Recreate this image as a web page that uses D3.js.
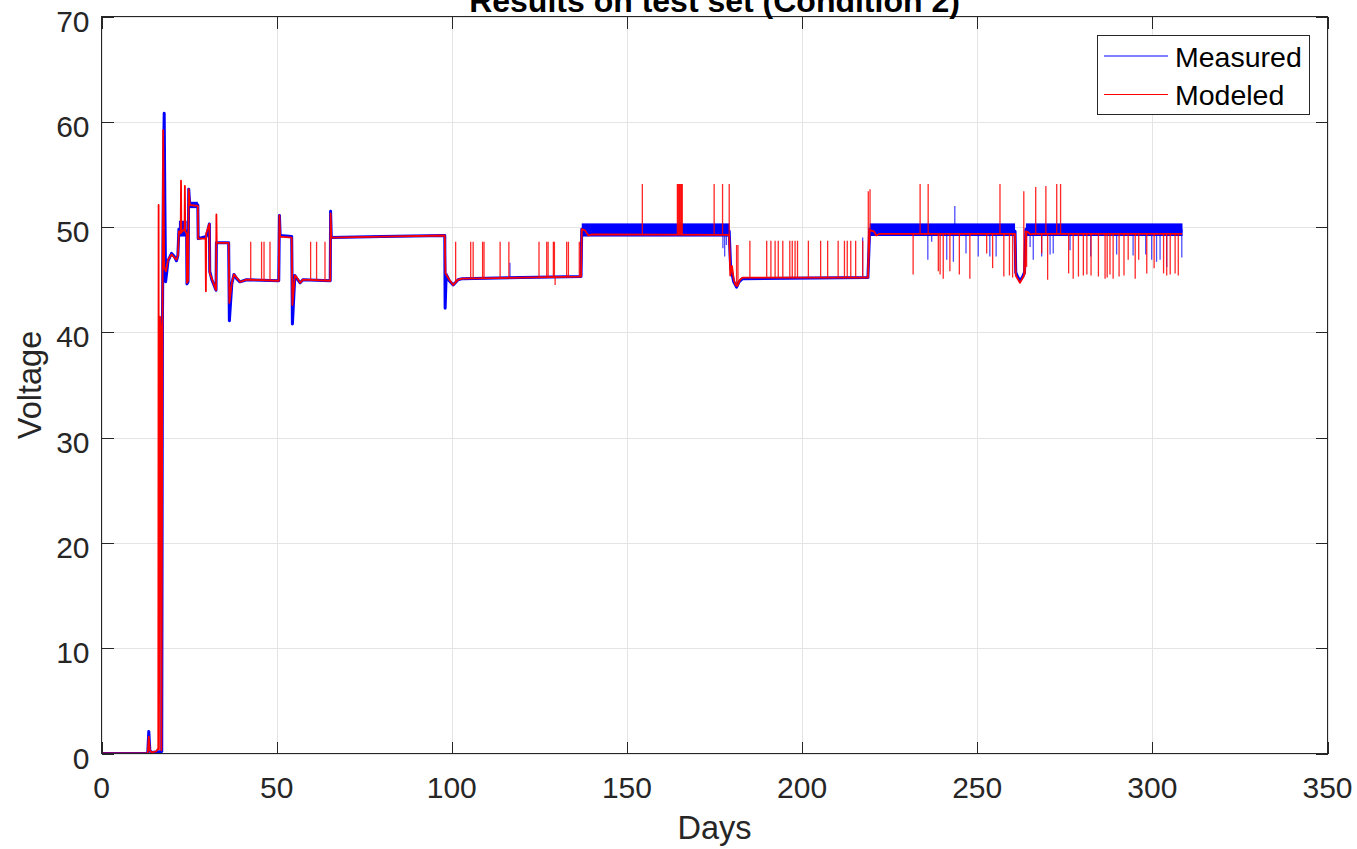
<!DOCTYPE html>
<html>
<head>
<meta charset="utf-8">
<script src="https://cdn.jsdelivr.net/npm/d3@7"></script>
<style>
  html, body { margin: 0; padding: 0; background: #fff; }
  svg { display: block; font-family: "Liberation Sans", Arial, Helvetica, sans-serif; }
</style>
</head>
<body>
<svg id="chart" width="1357" height="849"></svg>
<script>
// ---- Data -------------------------------------------------------------
const xTicks = [0, 50, 100, 150, 200, 250, 300, 350];
const yTicks = [0, 10, 20, 30, 40, 50, 60, 70];
const seriesNames = ["Measured", "Modeled"];

// Measured voltage trace: [day, volts]
const measured = [
  [0,0],[13.2,0],[13.5,2.1],[13.8,0.3],[14.3,0.1],[17.2,0.2],[17.4,41],[17.7,56],[17.9,60.8],
  [18.1,52],[18.3,44.8],[19,46.8],[20,47.5],[20.8,47.2],[21.4,46.8],[21.8,47.3],[22.1,49.8],
  [24.3,49.6],[24.4,44.6],[24.7,44.8],[24.9,53.6],[25.2,52.1],[27.5,52.1],[27.6,48.9],[29.9,49.1],
  [30.3,49.6],[30.8,50.3],[30.9,45.8],[31.5,45.0],[32.7,44.0],[32.8,48.5],[36.3,48.5],[36.5,41.1],
  [37.2,44.6],[37.8,45.5],[38.6,45.1],[39.5,44.8],[40.5,44.9],[41.4,45.0],[50.6,44.9],[50.8,51.1],
  [51.0,49.2],[54.3,49.1],[54.5,40.8],[55.2,45.4],[55.8,45.1],[56.7,44.7],[57.5,45.0],[65.3,44.9],
  [65.4,51.5],[65.6,49.0],[80,49.1],[98.0,49.2],[98.1,42.3],[98.4,45.5],[99.3,44.9],[100.4,44.5],
  [101.8,45.0],[103,45.1],[120,45.2],[136.9,45.3],[137.1,49.8],[179.2,49.6],[179.6,46.2],[180.5,44.8],
  [181.3,44.3],[182,44.8],[183,45.1],[218.8,45.2],[219.3,49.8],[260.8,49.6],[261,45.7],[261.5,45.3],
  [262.2,44.9],[263,45.3],[263.5,45.7],[263.9,49.8],[308.6,49.7]
];

// Noisy stretches of the measured signal: start day, end day, low and high volts
const bandStart = [22.1, 25.2, 137.1, 219.3, 263.9];
const bandEnd   = [24.3, 27.5, 179.3, 260.8, 308.6];
const bandLow   = [49.1, 51.8, 49.1, 49.15, 49.15];
const bandHigh  = [50.6, 52.4, 50.35, 50.35, 50.35];

// Isolated measured excursions: [day, extreme volts]
const measuredSpikes = [
  [116.6,46.6],[177.4,48.0],[177.9,47.2],[178.4,48.3],[217.3,49.0],[235.9,46.9],[237.0,48.6],
  [241.3,46.9],[243.2,46.7],[243.6,52.0],[246.8,47.5],[250.3,47.2],[253.6,47.2],[255.4,47.2],
  [265.1,48.1],[266.0,46.9],[268.4,47.2],[270.8,47.4],[271.7,47.5],[276.5,47.8],[282.4,47.2],
  [289.8,47.4],[294.5,47.3],[298.1,47.4],[299.8,46.9],[301.2,46.7],[302.2,46.9],[304.1,46.2],
  [308.4,47.1]
];

// Modeled voltage trace: [day, volts]
const modeled = [
  [0,0],[13.2,0],[13.5,1.6],[13.8,0.3],[14.3,0.1],[15.6,0.2],[16.2,0.5],[16.3,52.1],[16.4,0.4],
  [16.7,41.5],[16.9,40.5],[17.1,0.3],[17.4,40.8],[17.6,59.2],[17.9,46.2],[18.4,45.8],[19,46.9],
  [20,47.4],[20.8,47.1],[21.4,46.9],[21.8,47.3],[22.1,49.6],[22.6,49.4],[22.7,54.4],[22.8,49.5],
  [23.7,49.8],[23.8,53.9],[23.9,49.6],[24.3,49.4],[24.4,44.7],[24.7,44.9],[24.9,53.6],[25.2,52.1],
  [27.5,52.0],[27.6,48.9],[29.7,48.9],[29.8,43.9],[29.9,49.4],[30.8,50.3],[30.9,45.6],[31.5,45.1],
  [32.7,44.0],[32.8,51.2],[32.9,48.5],[36.3,48.5],[36.5,42.8],[37.2,44.7],[37.8,45.5],[38.6,45.2],
  [39.5,44.8],[40.5,44.9],[41.4,45.0],[50.6,44.9],[50.8,51.1],[51.0,49.1],[54.3,49.0],[54.5,42.6],
  [55.2,45.4],[55.8,45.2],[56.7,44.7],[57.5,45.0],[65.3,44.9],[65.4,51.3],[65.6,49.0],[80,49.1],
  [98.0,49.2],[98.2,45.6],[99.3,45.0],[100.4,44.5],[101.8,45.0],[103,45.1],[120,45.2],[136.9,45.3],
  [137.1,49.8],[138,49.7],[139,49.2],[140,49.3],[179.2,49.25],[179.5,45.4],[180,46.3],[180.5,45.0],
  [181,44.5],[181.5,44.4],[182.3,45.0],[183,45.2],[218.8,45.2],[219.3,49.7],[220.5,49.6],[221.2,49.2],
  [222,49.35],[260.8,49.35],[261,45.4],[262.2,44.7],[263.2,45.3],[263.6,45.6],[263.9,49.6],
  [264.6,49.5],[265.2,49.3],[266,49.35],[308.5,49.35]
];

// Isolated modeled excursions: [day, extreme volts]
const modeledSpikes = [
  [42.6,48.6],[45.7,48.6],[46.4,48.6],[48.1,48.6],[59.7,48.6],[61.4,48.6],[63.8,48.6],
  [101.1,48.6],[105.4,48.6],[106.1,48.6],[108.8,48.6],[109.2,48.6],[113.8,48.6],[116.3,48.6],
  [124.9,48.6],[127.1,48.6],[127.5,48.6],[129.0,48.6],[129.3,48.6],[129.5,44.5],[132.8,48.6],
  [133.3,48.6],[136.4,48.6],
  [154.4,54.1],[164.4,54.1],[164.6,54.1],[164.8,54.1],[165.0,54.1],[165.2,54.1],[165.4,54.1],
  [165.6,54.1],[165.8,54.1],[174.9,54.1],[177.3,54.1],[179.2,54.1],
  [181.3,48.3],[181.7,48.3],[185.1,48.7],[189.9,48.7],[191.1,48.7],[192.3,48.7],[193.2,48.7],
  [194.5,48.7],[196.5,48.7],[197.2,48.7],[198.0,48.7],[198.7,48.7],[201.8,48.7],[205.3,48.7],
  [207.3,48.7],[210.3,48.7],[212.1,48.7],[212.9,48.7],[213.9,48.7],[215.3,48.7],[217.3,48.7],
  [218.9,53.4],[219.4,53.6],
  [233.7,54.1],[236.0,54.1],[256.5,54.1],[263.3,53.4],[266.7,53.8],[269.6,53.9],[272.7,54.1],
  [273.8,54.1],
  [231.7,45.5],[238.9,45.8],[239.4,45.5],[240.3,45.1],[242.2,45.8],[244.9,45.5],[247.9,45.1],
  [252.7,47.5],[254.4,46.1],[257.6,45.3],[259.2,45.4],[260.1,45.2],[264.1,46.2],[268.4,47.5],
  [270.1,45.0],[276.1,45.6],[277.4,45.1],[278.9,45.3],[280.3,45.4],[281.3,45.5],[282.5,45.4],
  [284.6,45.3],[286.5,45.1],[287.1,45.2],[287.9,45.5],[288.8,45.1],[290.5,45.3],[291.9,45.4],
  [293.1,46.9],[295.1,45.1],[296.1,46.9],[298.4,45.6],[300.5,46.1],[303.2,45.6],[304.1,45.4],
  [305.1,45.5],[306.5,45.6],[307.4,45.4]
];

// ---- Layout -----------------------------------------------------------
const plotLeft = 101.5, plotRight = 1327.5, plotTop = 16.5, plotBottom = 753.5;
const x = d3.scaleLinear().domain([0, 350]).range([plotLeft, plotRight]);
const y = d3.scaleLinear().domain([0, 70]).range([plotBottom, plotTop]);

const svg = d3.select("#chart");
const axisColor = "#262626";
const blue = "#0000ff", red = "#ff0000";

svg.append("defs").append("clipPath").attr("id", "plotClip")
  .append("rect").attr("x", plotLeft).attr("y", plotTop)
  .attr("width", plotRight - plotLeft).attr("height", plotBottom - plotTop);

// Grid
const grid = svg.append("g");
grid.selectAll("line.gx").data(xTicks).join("line")
  .attr("x1", d => Math.round(x(d)) + 0.5).attr("x2", d => Math.round(x(d)) + 0.5)
  .attr("y1", plotTop).attr("y2", plotBottom)
  .attr("stroke", "#e4e4e4").attr("stroke-width", 1);
grid.selectAll("line.gy").data(yTicks).join("line")
  .attr("y1", d => Math.round(y(d)) + 0.5).attr("y2", d => Math.round(y(d)) + 0.5)
  .attr("x1", plotLeft).attr("x2", plotRight)
  .attr("stroke", "#e4e4e4").attr("stroke-width", 1);

// Value of a trace at a given day, between its stored points
function valueAt(trace, day) {
  const i = d3.bisector(d => d[0]).left(trace, day);
  if (i <= 0) return trace[0][1];
  if (i >= trace.length) return trace[trace.length - 1][1];
  const a = trace[i - 1], b = trace[i];
  const t = (day - a[0]) / (b[0] - a[0] || 1);
  return a[1] + t * (b[1] - a[1]);
}

const plot = svg.append("g").attr("clip-path", "url(#plotClip)");
const line = d3.line().x(d => x(d[0])).y(d => y(d[1]));

// Measured: noisy bands
const bands = bandStart.map((s, i) => ({ s, e: bandEnd[i], lo: bandLow[i], hi: bandHigh[i] }));
plot.selectAll("rect.band").data(bands).join("rect")
  .attr("x", d => x(d.s)).attr("width", d => x(d.e) - x(d.s))
  .attr("y", d => y(d.hi)).attr("height", d => y(d.lo) - y(d.hi))
  .attr("fill", blue);

// Measured: main trace
plot.append("path").datum(measured)
  .attr("d", line).attr("fill", "none")
  .attr("stroke", blue).attr("stroke-width", 3).attr("stroke-linejoin", "round");

// Measured: excursions
plot.selectAll("line.mspike").data(measuredSpikes).join("line")
  .attr("x1", d => x(d[0])).attr("x2", d => x(d[0]))
  .attr("y1", d => y(valueAt(measured, d[0])))
  .attr("y2", d => y(d[1]))
  .attr("stroke", blue).attr("stroke-width", 1.3).attr("stroke-opacity", 0.7);

// Modeled: main trace
plot.append("path").datum(modeled)
  .attr("d", line).attr("fill", "none")
  .attr("stroke", red).attr("stroke-width", 1.8).attr("stroke-linejoin", "round");

// Modeled: excursions
plot.selectAll("line.rspike").data(modeledSpikes).join("line")
  .attr("x1", d => x(d[0])).attr("x2", d => x(d[0]))
  .attr("y1", d => y(valueAt(modeled, d[0])))
  .attr("y2", d => y(d[1]))
  .attr("stroke", red).attr("stroke-width", 1.3).attr("stroke-opacity", 0.85);

// ---- Axes -------------------------------------------------------------
const tickLen = 12;
const axes = svg.append("g").attr("stroke", axisColor).attr("stroke-width", 1).attr("shape-rendering", "crispEdges");
axes.append("rect").attr("x", plotLeft).attr("y", plotTop)
  .attr("width", plotRight - plotLeft).attr("height", plotBottom - plotTop)
  .attr("fill", "none");
xTicks.forEach(t => {
  const px = Math.round(x(t)) + 0.5;
  axes.append("line").attr("x1", px).attr("x2", px).attr("y1", plotBottom).attr("y2", plotBottom - tickLen);
  axes.append("line").attr("x1", px).attr("x2", px).attr("y1", plotTop).attr("y2", plotTop + tickLen);
});
yTicks.forEach(t => {
  const py = Math.round(y(t)) + 0.5;
  axes.append("line").attr("y1", py).attr("y2", py).attr("x1", plotLeft).attr("x2", plotLeft + tickLen);
  axes.append("line").attr("y1", py).attr("y2", py).attr("x1", plotRight).attr("x2", plotRight - tickLen);
});

const tickFont = 30;
svg.append("g").selectAll("text").data(xTicks).join("text")
  .attr("x", d => x(d)).attr("y", 798)
  .attr("text-anchor", "middle").attr("font-size", tickFont).attr("fill", axisColor)
  .text(d => d);
svg.append("g").selectAll("text").data(yTicks).join("text")
  .attr("x", 89.5).attr("y", d => y(d) + 15)
  .attr("text-anchor", "end").attr("font-size", tickFont).attr("fill", axisColor)
  .text(d => d);

// Axis labels and title
svg.append("text").attr("x", (plotLeft + plotRight) / 2).attr("y", 839)
  .attr("text-anchor", "middle").attr("font-size", 32.5).attr("fill", axisColor).text("Days");
svg.append("text").attr("transform", `translate(41,${(plotTop + plotBottom) / 2}) rotate(-90)`)
  .attr("text-anchor", "middle").attr("font-size", 32.5).attr("fill", axisColor).text("Voltage");
svg.append("text").attr("x", (plotLeft + plotRight) / 2).attr("y", 12)
  .attr("text-anchor", "middle").attr("font-size", 32).attr("font-weight", "bold").attr("fill", "#000")
  .text("Results on test set (Condition 2)");

// ---- Legend -----------------------------------------------------------
const legend = svg.append("g");
legend.append("rect").attr("x", 1097.5).attr("y", 35.5).attr("width", 212).attr("height", 79)
  .attr("fill", "#fff").attr("stroke", axisColor).attr("stroke-width", 1);
const legendColors = [blue, red];
const legendY = [56, 94.5];
seriesNames.forEach((name, i) => {
  legend.append("line").attr("x1", 1104).attr("x2", 1168).attr("y1", legendY[i]).attr("y2", legendY[i])
    .attr("stroke", legendColors[i]).attr("stroke-width", 1.2);
  legend.append("text").attr("x", 1175).attr("y", legendY[i] + 10.5)
    .attr("font-size", 28.5).attr("fill", "#000").text(name);
});
</script>
</body>
</html>
